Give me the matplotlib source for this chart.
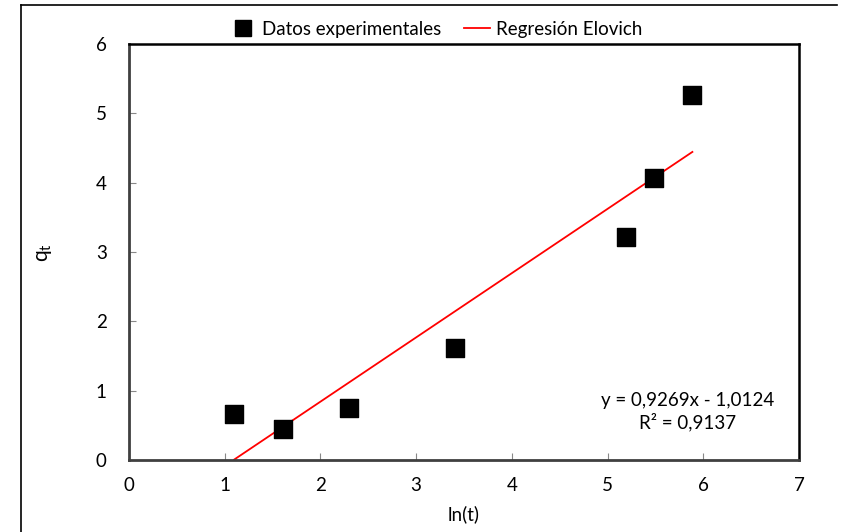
import numpy as np
import matplotlib
matplotlib.use('Agg')
import matplotlib.pyplot as plt
from matplotlib.lines import Line2D

plt.rcParams['font.family'] = ['Lato', 'DejaVu Sans']

# experimental data
ln_t = [1.0986, 1.6094, 2.3026, 3.4012, 5.1930, 5.4806, 5.8861]
q_t = [0.66, 0.44, 0.75, 1.62, 3.21, 4.07, 5.27]

# Elovich regression from the chart label
slope = 0.9269
intercept = -1.0124
r2 = 0.9137

fig = plt.figure(figsize=(8.48, 5.32), dpi=100)
ax = fig.add_axes([129/848, 1 - 460/532, (799-129)/848, (460-44)/532])

# outer chart frame (left and top edges visible)
fig.add_artist(Line2D([21/848, 21/848], [0, 1 - 5/532], color='black', lw=1.2))
fig.add_artist(Line2D([21/848, 837/848], [1 - 5/532, 1 - 5/532], color='black', lw=1.2))

ax.scatter(ln_t, q_t, marker='s', s=150, color='black', zorder=3,
           label='Datos experimentales')
xf = np.array([min(ln_t), max(ln_t)])
ax.plot(xf, slope * xf + intercept, color='red', lw=1.3, zorder=2,
        label='Regresión Elovich')

ax.set_xlim(0, 7)
ax.set_ylim(0, 6)
ax.set_xticks(range(0, 8))
ax.set_yticks(range(0, 7))
ax.tick_params(direction='in', length=5, color='#888888', labelsize=13.5, pad=12)
ax.tick_params(axis='y', pad=16)
for side in ['left', 'bottom']:
    ax.spines[side].set_color('#404040')
    ax.spines[side].set_linewidth(2)
for side in ['top', 'right']:
    ax.spines[side].set_color('black')
    ax.spines[side].set_linewidth(1.8)

ax.set_xlabel('ln(t)', fontsize=13.5, labelpad=8)
ax.set_ylabel('q$_{\\mathregular{t}}$', fontsize=15, labelpad=30)

eq = 'y = 0,9269x - 1,0124\nR² = 0,9137'
ax.text(5.84, 0.70, eq, fontsize=13.5, ha='center', va='center', linespacing=1.25)

handles = [Line2D([], [], marker='s', color='black', ls='none', markersize=11),
           Line2D([], [], color='red', lw=1.3)]
fig.legend(handles, ['Datos experimentales', 'Regresión Elovich'],
           loc='center', bbox_to_anchor=(436/848, 1 - 29/532), ncol=2,
           frameon=False, fontsize=13.5, handlelength=1.4, handletextpad=0.3,
           columnspacing=1.2)

fig.savefig('out.png', dpi=100)
